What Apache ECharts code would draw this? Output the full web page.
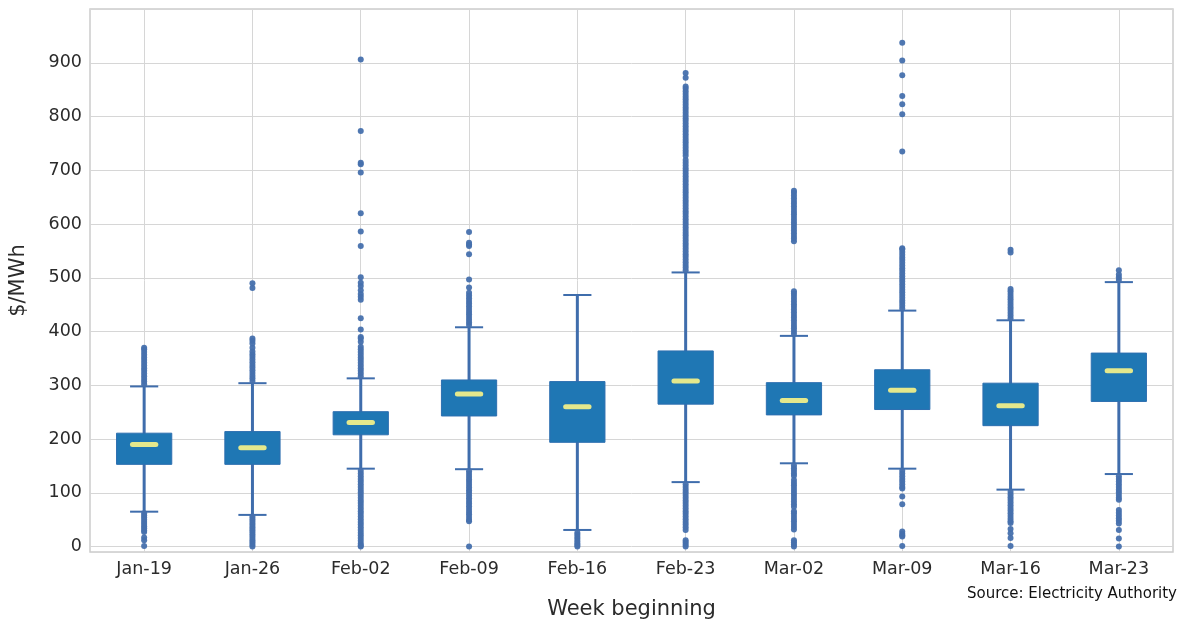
<!DOCTYPE html>
<html>
<head>
<meta charset="utf-8">
<script src="https://cdn.jsdelivr.net/npm/echarts@6/dist/echarts.min.js"></script>
<style>html,body{margin:0;padding:0;background:#fff}#c{width:1184px;height:622px}</style>
</head>
<body>
<div id="c"></div>
<script>
const categories = ['Jan-19','Jan-26','Feb-02','Feb-09','Feb-16','Feb-23','Mar-02','Mar-09','Mar-16','Mar-23'];
const lowerWhisker = [65, 59, 145, 144, 31, 120, 155, 145, 106, 135];
const q1 = [153, 153, 208, 243, 194, 265, 245, 255, 225, 270];
const median = [190, 184, 231, 284, 260, 308, 272, 291, 262, 327];
const q3 = [211, 214, 251, 310, 307, 364, 305, 329, 304, 360];
const upperWhisker = [298, 304, 313, 408, 468, 510, 392, 439, 421, 492];
const yTicks = [0, 100, 200, 300, 400, 500, 600, 700, 800, 900];

const outJan19 = [302,307,312,317,322,327,332,337,342,347,352,357,362,367,370,
  62,58,54,50,46,42,38,34,30,27,17,12,1];
const outJan26 = [308,313,318,323,328,333,338,343,348,353,358,363,370,378,383,387,481,490,
  56,52,48,44,40,36,32,28,24,20,16,12,8,4,0];
const outFeb02 = [317,322,327,332,337,342,347,352,357,362,367,372,381,387,390,404,425,459,465,470,477,485,491,501,559,586,620,696,711,714,773,906,
  141,136,131,126,121,116,111,106,101,96,91,86,81,76,71,66,61,56,51,46,41,36,31,26,21,16,11,6,2,0];
const outFeb09 = [412,417,422,427,432,437,442,447,452,457,462,467,472,482,497,544,559,562,565,585,
  140,135,130,125,120,115,110,105,100,95,90,85,80,75,70,65,60,55,50,47,0];
const outFeb16 = [26,22,18,14,10,6,3,0];
const outFeb23 = [514,519,524,529,534,539,544,549,554,559,564,569,574,579,584,589,594,599,604,609,614,619,624,629,634,639,644,649,654,659,664,669,674,679,684,689,694,699,704,709,714,719,727,732,737,742,747,752,757,762,767,772,777,782,787,792,797,802,807,812,817,822,827,832,837,842,847,852,856,872,881,
  116,111,106,101,96,91,86,81,76,71,66,61,56,51,46,41,36,31,12,8,4,0];
const outMar02 = [396,401,406,411,416,421,426,431,436,441,446,451,456,461,466,471,475,
  568,573,578,583,588,593,598,603,608,613,618,623,628,633,638,643,648,653,658,662,
  151,146,141,136,132,124,119,114,109,104,99,94,89,84,79,74,66,62,57,52,47,42,37,32,12,8,4,0];
const outMar09 = [443,448,453,458,463,468,473,478,483,488,493,498,503,508,513,518,523,528,533,538,543,548,553,555,735,804,823,838,877,904,937,
  141,136,131,126,121,116,111,108,93,79,28,24,21,19,1];
const outMar16 = [425,430,435,440,445,450,455,460,465,470,475,479,547,552,
  102,97,92,87,82,77,72,67,62,57,52,47,44,33,25,16,1];
const outMar23 = [496,501,506,514,
  131,126,121,116,111,106,101,96,91,87,68,63,58,53,48,43,31,15,0];

const outliers = [outJan19,outJan26,outFeb02,outFeb09,outFeb16,outFeb23,outMar02,outMar09,outMar16,outMar23];

const boxData = categories.map((c, i) => [i, lowerWhisker[i], q1[i], median[i], q3[i], upperWhisker[i]]);
const outlierData = [];
outliers.forEach((arr, i) => arr.forEach(v => outlierData.push([i, v])));

const FONT = 'DejaVu Sans';
const whiskerColor = '#3f6dac';
const boxColor = '#1f77b4';
const medColor = '#e4e88c';

const chart = echarts.init(document.getElementById('c'), null, {renderer: 'canvas'});
chart.setOption({
  animation: false,
  backgroundColor: '#ffffff',
  grid: {left: 90, right: 11, top: 9, bottom: 70, show: true, borderColor: '#cccccc', borderWidth: 1.5,
    backgroundColor: 'transparent', containLabel: false, outerBoundsMode: 'none'},
  xAxis: {
    type: 'category',
    data: categories,
    boundaryGap: true,
    name: 'Week beginning',
    nameLocation: 'middle',
    nameGap: 47,
    nameTextStyle: {fontFamily: FONT, fontSize: 21, color: '#2b2b2b'},
    axisLine: {show: false},
    axisTick: {show: false},
    axisLabel: {fontFamily: FONT, fontSize: 17.5, color: '#2b2b2b', margin: 8, interval: 0},
    splitLine: {show: true, alignWithLabel: true, interval: 0, lineStyle: {color: '#d6d6d6', width: 1}}
  },
  yAxis: {
    type: 'value',
    min: -10,
    max: 1000,
    splitNumber: 10,
    name: '$/MWh',
    nameLocation: 'middle',
    nameGap: 61,
    nameTextStyle: {fontFamily: FONT, fontSize: 21, color: '#2b2b2b'},
    axisLine: {show: false},
    axisTick: {show: false},
    axisLabel: {fontFamily: FONT, fontSize: 17.5, color: '#2b2b2b', margin: 8,
      formatter: v => (yTicks.indexOf(v) >= 0 ? String(v) : '')},
    splitLine: {show: true, lineStyle: {color: '#d6d6d6', width: 1}}
  },
  series: [
    {
      type: 'scatter',
      data: outlierData,
      symbol: 'circle',
      symbolSize: 6,
      clip: false,
      z: 3,
      itemStyle: {color: '#4670ad', opacity: 0.95}
    },
    {
      type: 'custom',
      data: boxData,
      z: 2,
      clip: false,
      renderItem: function (params, api) {
        const x = api.value(0);
        const band = api.coord([1, 0])[0] - api.coord([0, 0])[0];
        const cx = api.coord([x, 0])[0];
        const yLw = api.coord([x, api.value(1)])[1];
        const yQ1 = api.coord([x, api.value(2)])[1];
        const yMed = api.coord([x, api.value(3)])[1];
        const yQ3 = api.coord([x, api.value(4)])[1];
        const yUw = api.coord([x, api.value(5)])[1];
        const boxHalf = band * 0.255;
        const capHalf = band * 0.13;
        const medHalf = band * 0.108;
        return {
          type: 'group',
          children: [
            {type: 'line', shape: {x1: cx, y1: yLw, x2: cx, y2: yUw}, style: {stroke: whiskerColor, lineWidth: 3}},
            {type: 'line', shape: {x1: cx - capHalf, y1: yLw, x2: cx + capHalf, y2: yLw}, style: {stroke: whiskerColor, lineWidth: 2}},
            {type: 'line', shape: {x1: cx - capHalf, y1: yUw, x2: cx + capHalf, y2: yUw}, style: {stroke: whiskerColor, lineWidth: 2}},
            {type: 'rect', shape: {x: cx - boxHalf, y: yQ3, width: 2 * boxHalf, height: yQ1 - yQ3}, style: {fill: boxColor, stroke: '#2d6fb0', lineWidth: 1}},
            {type: 'line', shape: {x1: cx - medHalf, y1: yMed, x2: cx + medHalf, y2: yMed}, style: {stroke: medColor, lineWidth: 5, lineCap: 'round'}}
          ]
        };
      }
    }
  ],
  graphic: [
    {type: 'text', right: 7, top: 587, style: {text: 'Source: Electricity Authority', font: '15px "DejaVu Sans"', fill: '#111111'}}
  ]
});
</script>
</body>
</html>
